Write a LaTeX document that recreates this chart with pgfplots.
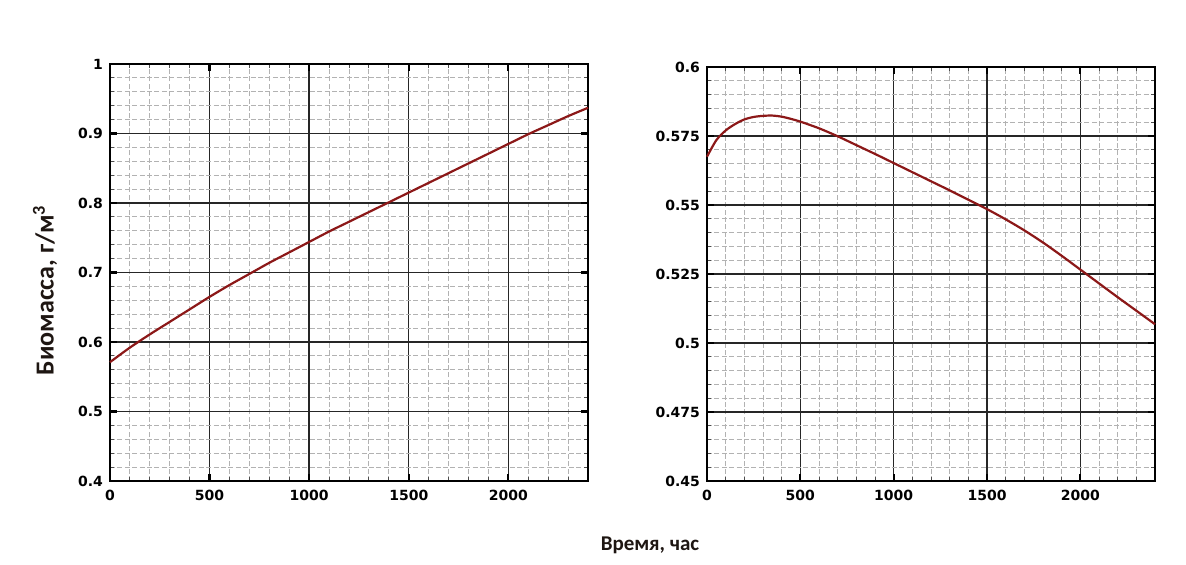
\documentclass[border=0pt]{standalone}
\usepackage{fontspec}
\setmainfont{Carlito}
\newfontfamily\tickfont{DejaVu Sans}
\usepackage{pgfplots}
\pgfplotsset{compat=1.18}
\definecolor{curve}{RGB}{140,24,24}
\definecolor{labelink}{RGB}{30,22,18}

\pgfplotsset{
  biomass/.style={
    scale only axis,
    axis line style={line width=1.3pt, black},
    xmin=0, xmax=2400,
    xtick={0,500,1000,1500,2000},
    minor xtick={100,200,...,2300},
    grid=both,
    major grid style={line width=0.7pt, black!85},
    minor grid style={line width=0.45pt, black!30, dash pattern=on 2.5pt off 1.2pt},
    tick align=inside,
    major tick length=3.5pt,
    minor tick length=1.8pt,
    every major tick/.append style={line width=1.1pt, black},
    every minor tick/.append style={line width=0.5pt, black!70},
    /pgf/number format/assume math mode=true,
    /pgf/number format/set thousands separator={},
    tick label style={font=\tickfont\bfseries\fontsize{7}{8}\selectfont},
    scaled ticks=false,
    xticklabel style={yshift=-1pt},
    clip=false,
  }
}

\begin{document}
\begin{tikzpicture}
  % page frame
  \path (0,0) rectangle (593pt,282pt);

  % left panel
  \begin{axis}[biomass,
      at={(55pt,41.5pt)}, anchor=south west,
      width=239pt, height=208.5pt,
      ymin=0.4, ymax=1,
      ytick={0.4,0.5,0.6,0.7,0.8,0.9,1},
      yticklabels={0.4,0.5,0.6,0.7,0.8,0.9,1},
      minor ytick={0.42,0.44,...,0.99},
      ylabel={\textbf{Биомасса, г/м\textsuperscript{3}}},
      ylabel style={at={(axis description cs:-0.136,0.458)}, anchor=center,
        font=\fontsize{13}{15}\selectfont, text=labelink},
    ]
    \addplot[curve, line width=1.1pt, smooth] coordinates {
      (0,0.571) (100,0.592) (200,0.611) (300,0.629) (400,0.647)
      (500,0.665) (600,0.682) (700,0.698) (800,0.714) (900,0.729)
      (1000,0.744) (1100,0.759) (1200,0.773) (1300,0.787) (1400,0.801)
      (1500,0.815) (1600,0.829) (1700,0.843) (1800,0.857) (1900,0.871)
      (2000,0.885) (2100,0.899) (2200,0.912) (2300,0.925) (2400,0.937)
    };
  \end{axis}

  % right panel
  \begin{axis}[biomass,
      at={(353.5pt,41.5pt)}, anchor=south west,
      width=224pt, height=207pt,
      ymin=0.45, ymax=0.6,
      ytick={0.45,0.475,0.5,0.525,0.55,0.575,0.6},
      yticklabels={0.45,0.475,0.5,0.525,0.55,0.575,0.6},
      minor ytick={0.455,0.46,...,0.598},
    ]
    \addplot[curve, line width=1.1pt, smooth] coordinates {
      (0,0.5675) (50,0.5735) (100,0.5770) (150,0.5793) (200,0.5810)
      (250,0.5819) (300,0.5823) (350,0.5824) (400,0.5820) (450,0.5812)
      (500,0.5802) (600,0.5778) (700,0.5749) (800,0.5717) (900,0.5685)
      (1000,0.5652) (1100,0.5619) (1200,0.5586) (1300,0.5553) (1400,0.5519)
      (1500,0.5485) (1600,0.5448) (1700,0.5408) (1800,0.5364) (1900,0.5316)
      (2000,0.5266) (2100,0.5216) (2200,0.5166) (2300,0.5117) (2400,0.5068)
    };
  \end{axis}

  % shared time axis title
  \node[font=\bfseries\fontsize{10.5}{12}\selectfont, text=labelink] at (325pt,9.5pt) {Время, час};
\end{tikzpicture}
\end{document}
